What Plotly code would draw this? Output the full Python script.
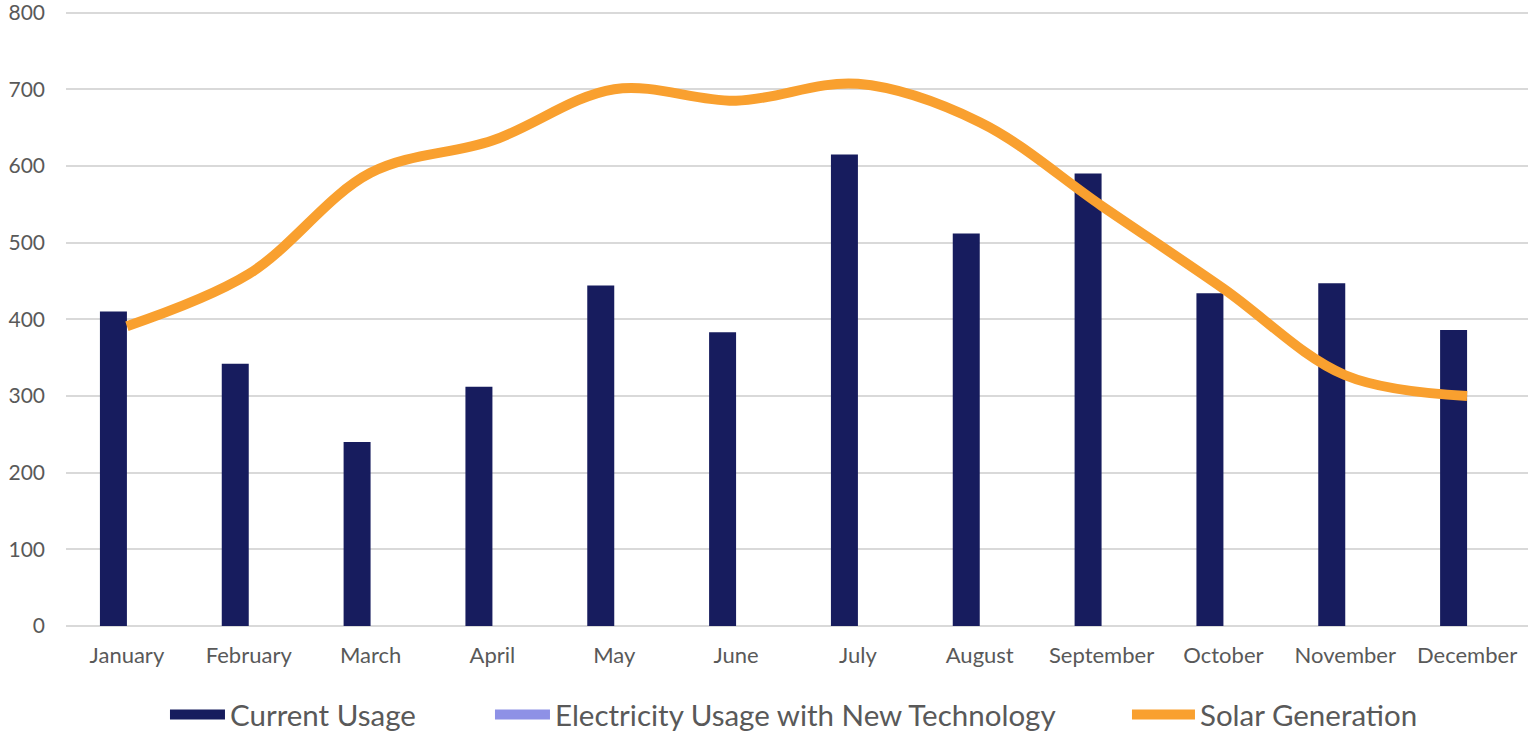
import plotly.graph_objects as go

months = ["January", "February", "March", "April", "May", "June", "July",
          "August", "September", "October", "November", "December"]
current_usage = [410, 342, 240, 312, 444, 383, 615, 512, 590, 434, 447, 386]
new_tech_usage = [None] * 12
solar_generation = [391, 459, 591, 633, 700, 685, 707, 657, 548, 440, 327, 300]

FONT = "Lato"
GRAY = "#595959"
NAVY = "#171C5E"
LILAC = "#8E91E6"
ORANGE = "#F9A02F"

fig = go.Figure()
fig.add_trace(go.Bar(x=months, y=current_usage, name="Current Usage", showlegend=False,
                     marker=dict(color=NAVY, line=dict(width=0))))
fig.add_trace(go.Bar(x=months, y=new_tech_usage, name="Electricity Usage with New Technology",
                     showlegend=False, marker=dict(color=LILAC, line=dict(width=0))))
fig.add_trace(go.Scatter(x=months, y=solar_generation, name="Solar Generation", showlegend=False,
                         mode="lines", line=dict(color=ORANGE, width=10, shape="spline", smoothing=1)))

# legend entries (wide swatches like the original), one legend box per entry
entries = [("Current Usage", NAVY, 18, "legend", 0.0677),
           ("Electricity Usage with New Technology", LILAC, 18, "legend2", 0.2900),
           ("Solar Generation", ORANGE, 11, "legend3", 0.7257)]
legend_layouts = {}
for name, color, w, lg, xpos in entries:
    fig.add_trace(go.Scatter(x=[None], y=[None], name=name, mode="lines",
                             line=dict(color=color, width=w), showlegend=True, legend=lg))
    legend_layouts[lg] = dict(orientation="h", x=xpos, xanchor="left", y=-0.1445, yanchor="middle",
                              font=dict(size=29.5, color=GRAY, family=FONT),
                              itemwidth=55 if lg != "legend3" else 63,
                              bgcolor="rgba(0,0,0,0)")

fig.update_layout(
    width=1539, height=733,
    margin=dict(l=66, r=11, t=11, b=107, autoexpand=False),
    paper_bgcolor="white", plot_bgcolor="white",
    barmode="group", bargap=0.557, bargroupgap=0,
    font=dict(family=FONT, color=GRAY),
    xaxis=dict(showgrid=False, showline=False, tickfont=dict(size=22, color=GRAY),
               ticks="", ticklabelstandoff=14),
    yaxis=dict(range=[0, 802], dtick=100, showgrid=True, gridcolor="#D9D9D9", gridwidth=1.5,
               zeroline=True, zerolinecolor="#D9D9D9", zerolinewidth=1.5,
               tickfont=dict(size=21, color=GRAY), ticks="", ticklabelstandoff=20,
               ticklabeloverflow="allow"),
    **legend_layouts,
)

fig.write_html("out.html", config={"displayModeBar": False},
               post_script="document.body.style.margin='0';")
